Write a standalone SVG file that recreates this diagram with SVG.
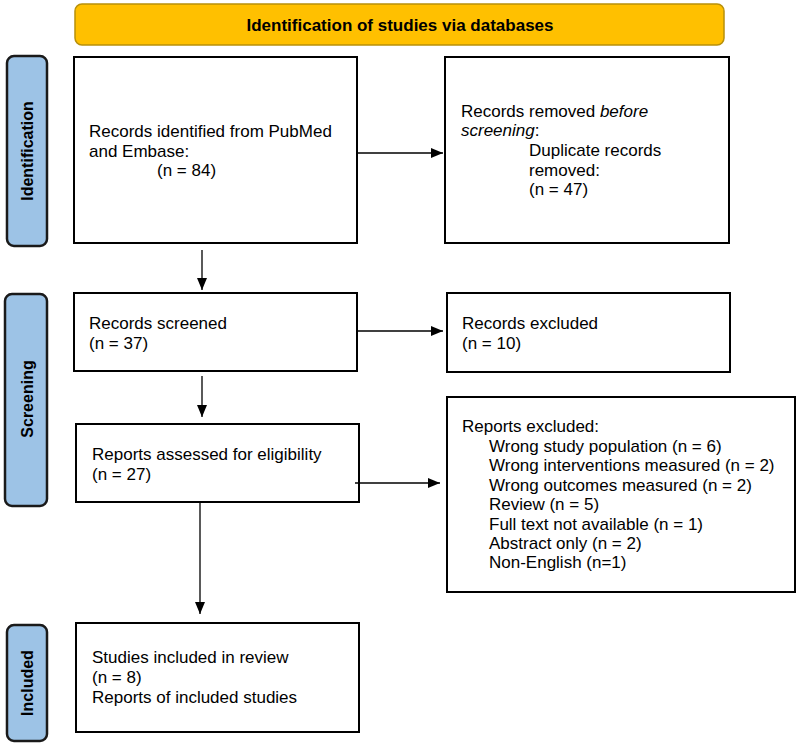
<svg xmlns="http://www.w3.org/2000/svg" width="797" height="753" viewBox="0 0 797 753">
<defs>
<marker id="ah" markerWidth="12" markerHeight="10" refX="12" refY="5" orient="auto" markerUnits="userSpaceOnUse">
<path d="M0,0 L12,5 L0,10 Z" fill="#000"/>
</marker>
<style>
.box{fill:#fff;stroke:#000;stroke-width:2}
.side{fill:#9DC3E6;stroke:#1a1a1a;stroke-width:2.5}
.banner{fill:#FFC000;stroke:#B8900A;stroke-width:1.5}
.t{font-family:"Liberation Sans",Arial,sans-serif;font-size:17px;fill:#000}
.sl{font-family:"Liberation Sans",Arial,sans-serif;font-size:16px;font-weight:bold;fill:#000;text-anchor:middle}
.bt{font-family:"Liberation Sans",Arial,sans-serif;font-size:17px;font-weight:bold;fill:#000;text-anchor:middle}
.c{stroke:#000;stroke-width:1.3;fill:none}
</style>
</defs>
<rect width="797" height="753" fill="#fff"/>
<g id="banner">
<rect class="banner" x="75" y="4" width="649" height="41" rx="7"/>
<text class="bt" x="400" y="31">Identification of studies via databases</text>
</g>
<g id="side-identification">
<rect class="side" x="7" y="56" width="40" height="190" rx="7"/>
<text class="sl" transform="translate(33,151) rotate(-90)">Identification</text>
</g>
<g id="side-screening">
<rect class="side" x="5" y="294" width="42" height="212" rx="7"/>
<text class="sl" transform="translate(33,399) rotate(-90)">Screening</text>
</g>
<g id="side-included">
<rect class="side" x="7" y="625" width="40" height="116" rx="7"/>
<text class="sl" transform="translate(33,683) rotate(-90)">Included</text>
</g>
<g id="records-identified">
<rect class="box" x="74" y="57" width="283" height="186"/>
<text class="t" x="89" y="137">Records identified from PubMed</text>
<text class="t" x="89" y="157">and Embase:</text>
<text class="t" x="157" y="176">(n = 84)</text>
</g>
<g id="records-removed">
<rect class="box" x="445" y="57" width="284" height="186"/>
<text class="t" x="461" y="117">Records removed <tspan font-style="italic">before</tspan></text>
<text class="t" x="461" y="136"><tspan font-style="italic">screening</tspan>:</text>
<text class="t" x="529" y="156">Duplicate records</text>
<text class="t" x="529" y="176">removed:</text>
<text class="t" x="529" y="195">(n = 47)</text>
</g>
<g id="records-screened">
<rect class="box" x="74" y="293" width="283" height="78"/>
<text class="t" x="89" y="329">Records screened</text>
<text class="t" x="89" y="349">(n = 37)</text>
</g>
<g id="records-excluded">
<rect class="box" x="447" y="293" width="283" height="79"/>
<text class="t" x="462" y="329">Records excluded</text>
<text class="t" x="462" y="349">(n = 10)</text>
</g>
<g id="reports-assessed">
<rect class="box" x="76" y="424" width="283" height="78"/>
<text class="t" x="92" y="460">Reports assessed for eligibility</text>
<text class="t" x="92" y="480">(n = 27)</text>
</g>
<g id="reports-excluded">
<rect class="box" x="447" y="397" width="348" height="195"/>
<text class="t" x="462" y="432">Reports excluded:</text>
<text class="t" x="489" y="452">Wrong study population (n = 6)</text>
<text class="t" x="489" y="471">Wrong interventions measured (n = 2)</text>
<text class="t" x="489" y="491">Wrong outcomes measured (n = 2)</text>
<text class="t" x="489" y="510">Review (n = 5)</text>
<text class="t" x="489" y="530">Full text not available (n = 1)</text>
<text class="t" x="489" y="549">Abstract only (n = 2)</text>
<text class="t" x="489" y="568">Non-English (n=1)</text>
</g>
<g id="studies-included">
<rect class="box" x="76" y="623" width="283" height="109"/>
<text class="t" x="92" y="663">Studies included in review</text>
<text class="t" x="92" y="683">(n = 8)</text>
<text class="t" x="92" y="703">Reports of included studies</text>
</g>
<g id="connectors">
<line class="c" x1="357" y1="153" x2="443" y2="153" marker-end="url(#ah)"/>
<line class="c" x1="202" y1="250" x2="202" y2="290" marker-end="url(#ah)"/>
<line class="c" x1="357" y1="331" x2="443" y2="331" marker-end="url(#ah)"/>
<line class="c" x1="202" y1="376" x2="202" y2="417" marker-end="url(#ah)"/>
<line class="c" x1="355" y1="483" x2="440" y2="483" marker-end="url(#ah)"/>
<line class="c" x1="200" y1="502" x2="200" y2="614" marker-end="url(#ah)"/>
</g>
</svg>
